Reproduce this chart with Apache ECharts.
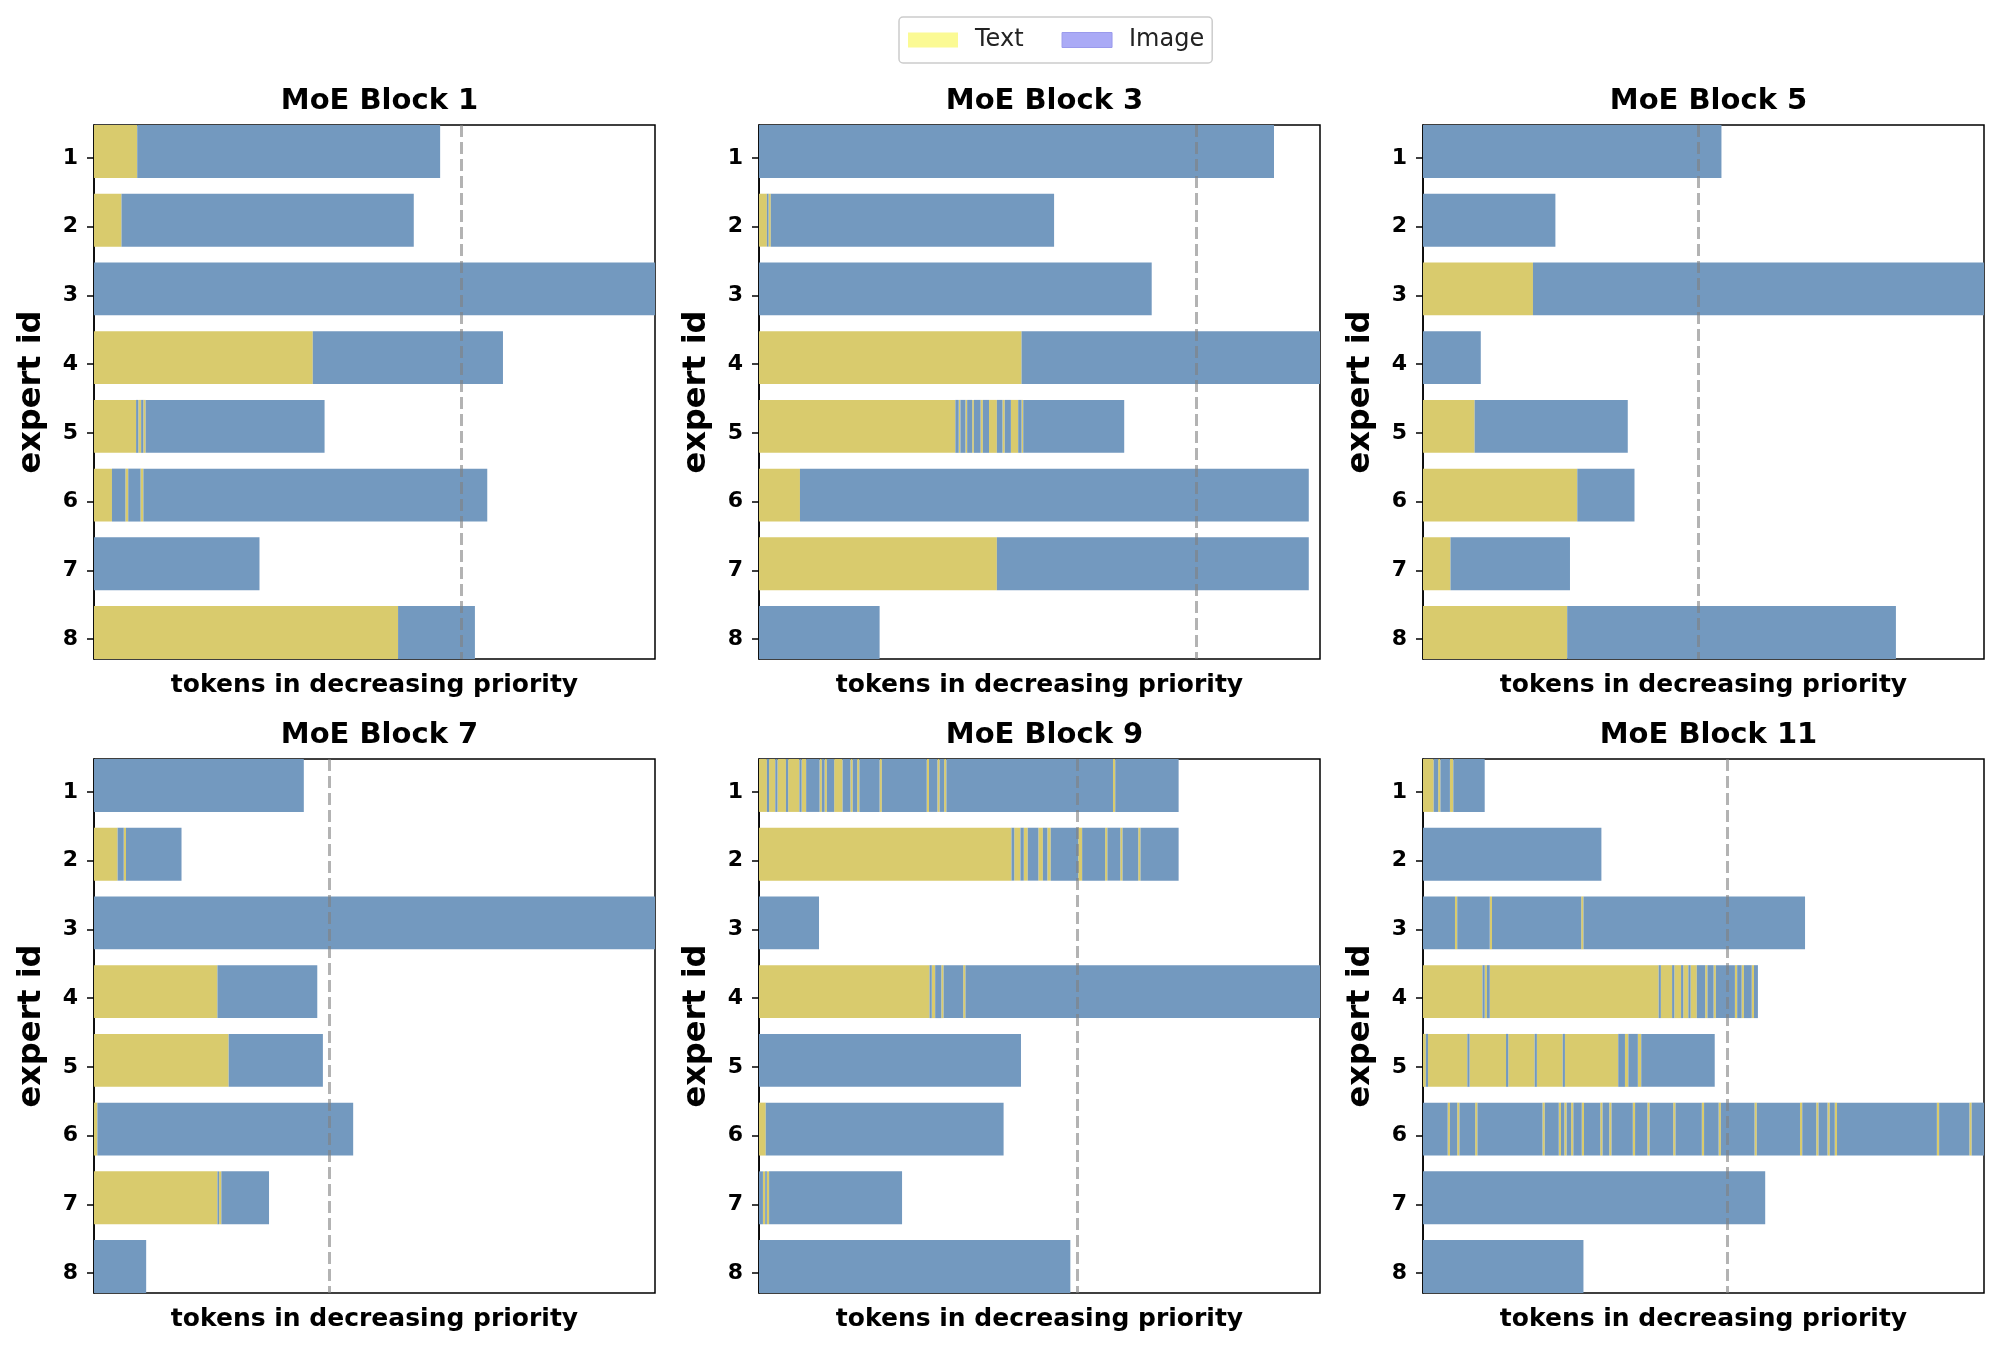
<!DOCTYPE html>
<html>
<head>
<meta charset="utf-8">
<script src="https://cdn.jsdelivr.net/npm/echarts@6/dist/echarts.min.js"></script>
<style>
  html, body { margin: 0; padding: 0; background: #fff; }
  #chart { width: 2000px; height: 1350px; }
</style>
</head>
<body>
<div id="chart"></div>
<script>
// ---------------- DATA ----------------
// Expert ids (y tick labels)
const expertIds = [1, 2, 3, 4, 5, 6, 7, 8];
const titles = ['MoE Block 1', 'MoE Block 3', 'MoE Block 5', 'MoE Block 7', 'MoE Block 9', 'MoE Block 11'];
const legendNames = ['Text', 'Image'];
const xAxisLabel = 'tokens in decreasing priority';
const yAxisLabel = 'expert id';
// Capacity (dashed line) position, as % of the x range
const capacity = [65.4, 78.0, 49.0, 42.0, 56.8, 54.3];

// For every expert: cumulative boundaries (in % of the x range) of alternating runs,
// starting with a Text run at 0, then Image, then Text, ...
const block1 = [
  [7.7, 61.7],
  [4.9, 57.0],
  [0, 100],
  [39.0, 72.9],
  [7.5, 7.9, 8.4, 8.8, 9.2, 41.1],
  [3.2, 5.6, 6.1, 8.3, 8.8, 70.1],
  [0, 29.5],
  [54.2, 67.9]
];
const block3 = [
  [0, 91.8],
  [1.4, 1.7, 2.1, 52.6],
  [0, 70.0],
  [46.8, 100],
  [35.0, 35.6, 35.9, 36.8, 37.1, 38.0, 38.3, 39.5, 39.9, 41.0, 42.4, 43.4, 43.8, 44.9, 46.2, 46.8, 47.1, 65.1],
  [7.3, 98.0],
  [42.4, 98.0],
  [0, 21.5]
];
const block5 = [
  [0, 53.2],
  [0, 23.6],
  [19.6, 100],
  [0, 10.3],
  [9.2, 36.5],
  [27.5, 37.7],
  [4.9, 26.2],
  [25.7, 84.3]
];
const block7 = [
  [0, 37.4],
  [4.2, 5.3, 5.7, 15.6],
  [0, 100],
  [22.0, 39.8],
  [24.0, 40.8],
  [0.6, 46.2],
  [22.0, 22.3, 22.7, 31.2],
  [0, 9.3]
];
const block9 = [
  [1.4, 1.8, 2.9, 3.3, 4.8, 5.2, 7.2, 7.6, 8.4, 10.8, 11.2, 11.7, 12.1, 13.4, 14.9, 16.3, 16.7, 17.5, 17.9, 21.5, 21.9, 29.9, 30.3, 31.8, 32.2, 33.0, 33.4, 63.1, 63.5, 74.8],
  [45.0, 45.5, 46.6, 47.2, 47.9, 49.8, 50.6, 51.4, 52.0, 56.9, 57.6, 61.7, 62.1, 64.4, 64.8, 67.6, 68.0, 74.8],
  [0, 10.7],
  [30.4, 30.8, 31.4, 32.5, 32.9, 36.4, 36.8, 100],
  [0, 46.7],
  [1.2, 43.6],
  [0, 0.7, 1.1, 1.4, 1.8, 25.5],
  [0, 55.5]
];
const block11 = [
  [1.9, 2.7, 3.1, 4.8, 5.4, 11.0],
  [0, 31.8],
  [0, 5.7, 6.1, 11.9, 12.3, 28.2, 28.6, 68.1],
  [10.6, 11.0, 11.4, 11.9, 42.0, 42.4, 44.4, 44.8, 46.0, 46.4, 47.3, 47.7, 48.8, 50.3, 50.7, 51.8, 52.2, 55.6, 56.0, 56.8, 57.2, 58.6, 59.0, 59.7],
  [0.5, 0.9, 7.9, 8.3, 14.8, 15.2, 19.9, 20.3, 24.9, 25.3, 34.8, 36.0, 36.6, 38.3, 38.9, 52.0],
  [0, 4.4, 4.8, 6.1, 6.5, 9.3, 9.7, 21.3, 21.7, 24.2, 24.6, 25.2, 25.6, 26.4, 26.8, 28.3, 28.7, 31.6, 32.0, 33.2, 33.6, 37.4, 37.8, 40.0, 40.4, 44.6, 45.0, 49.7, 50.1, 52.7, 53.1, 59.1, 59.5, 67.2, 67.6, 70.1, 70.5, 72.1, 72.5, 73.4, 73.8, 91.6, 92.0, 97.4, 97.8, 100],
  [0, 61.0],
  [0, 28.6]
];
const blocks = [block1, block3, block5, block7, block9, block11];

// ---------------- STYLE / LAYOUT ----------------
const FONT = 'DejaVu Sans';
const TEXT_COLOR = '#d9cb6d';
const IMAGE_COLOR = '#7399bf';
const BAR_UP = 0.48, BAR_DOWN = 0.29;   // bar extent above / below its tick (in category units)
const colLefts = [94, 759, 1423];
const rowTops = [125, 759];
const gridW = 561, gridH = 534;

function toSegments(block) {
  const text = [], image = [];
  block.forEach((bounds, i) => {
    let prev = 0;
    bounds.forEach((b, k) => {
      if (b > prev) (k % 2 === 0 ? text : image).push([prev, b, expertIds[i]]);
      prev = b;
    });
  });
  return { text, image };
}

function renderItem(params, api) {
  const s = api.value(0), e = api.value(1), y = api.value(2);
  const p0 = api.coord([s, y - BAR_UP]);
  const p1 = api.coord([e, y + BAR_DOWN]);
  return {
    type: 'rect',
    shape: { x: p0[0], y: Math.min(p0[1], p1[1]), width: p1[0] - p0[0], height: Math.abs(p1[1] - p0[1]) },
    style: { fill: api.visual('color') }
  };
}

const grid = [], xAxis = [], yAxis = [], series = [], title = [];
blocks.forEach((block, g) => {
  const col = g % 3, row = Math.floor(g / 3);
  const left = colLefts[col], top = rowTops[row];
  grid.push({ left: left, top: top, width: gridW, height: gridH, show: true,
    borderColor: '#000', borderWidth: 1.5, backgroundColor: 'transparent' });
  title.push({ text: titles[g], left: left + gridW / 2, top: top - 43, textAlign: 'center',
    textStyle: { fontFamily: FONT, fontWeight: 'bold', fontSize: 29, color: '#000' } });
  xAxis.push({ type: 'value', gridIndex: g, min: 0, max: 100,
    axisLabel: { show: false }, axisTick: { show: false }, axisLine: { show: false }, splitLine: { show: false },
    name: xAxisLabel, nameLocation: 'middle', nameGap: 14,
    nameTextStyle: { fontFamily: FONT, fontWeight: 'bold', fontSize: 25, color: '#000', verticalAlign: 'top' } });
  yAxis.push({ type: 'value', gridIndex: g, min: expertIds[0] - BAR_UP, max: expertIds[expertIds.length - 1] + BAR_DOWN, inverse: true,
    axisLine: { show: true, lineStyle: { color: '#000', width: 1.5 } },
    axisTick: { show: true, customValues: expertIds, length: 7, lineStyle: { color: '#000', width: 1.5 } },
    axisLabel: { customValues: expertIds, fontFamily: FONT, fontWeight: 'bold', fontSize: 22, color: '#000', margin: 16 },
    splitLine: { show: false },
    name: yAxisLabel, nameLocation: 'middle', nameGap: 46,
    nameTextStyle: { fontFamily: FONT, fontWeight: 'bold', fontSize: 32, color: '#000' } });
  const seg = toSegments(block);
  series.push({ type: 'custom', name: legendNames[0], xAxisIndex: g, yAxisIndex: g,
    renderItem: renderItem, encode: { x: [0, 1], y: 2 },
    itemStyle: { color: TEXT_COLOR }, data: seg.text, silent: true });
  series.push({ type: 'custom', name: legendNames[1], xAxisIndex: g, yAxisIndex: g,
    renderItem: renderItem, encode: { x: [0, 1], y: 2 },
    itemStyle: { color: IMAGE_COLOR }, data: seg.image, silent: true,
    markLine: { silent: true, symbol: 'none', label: { show: false }, animation: false,
      lineStyle: { type: [12, 5], color: 'rgba(128,128,128,0.6)', width: 3 },
      data: [{ xAxis: capacity[g] }] } });
});

const chart = echarts.init(document.getElementById('chart'), null, { renderer: 'canvas' });
chart.setOption({
  backgroundColor: '#fff',
  animation: false,
  title: title,
  legend: {
    left: 899, top: 17,
    padding: [11, 8, 11, 9],
    borderColor: '#cccccc', borderWidth: 1.5, borderRadius: 4, backgroundColor: '#fff',
    itemWidth: 50, itemHeight: 15, itemGap: 38,
    textStyle: { fontFamily: FONT, fontSize: 24, color: '#222', padding: [0, 0, 0, 12] },
    data: [
      { name: legendNames[0], icon: 'rect', itemStyle: { color: '#fbfa94', borderWidth: 0 } },
      { name: legendNames[1], icon: 'rect', itemStyle: { color: '#aaaaf6', borderColor: '#9a9aec', borderWidth: 1 } }
    ]
  },
  grid: grid,
  xAxis: xAxis,
  yAxis: yAxis,
  series: series
});
</script>
</body>
</html>
